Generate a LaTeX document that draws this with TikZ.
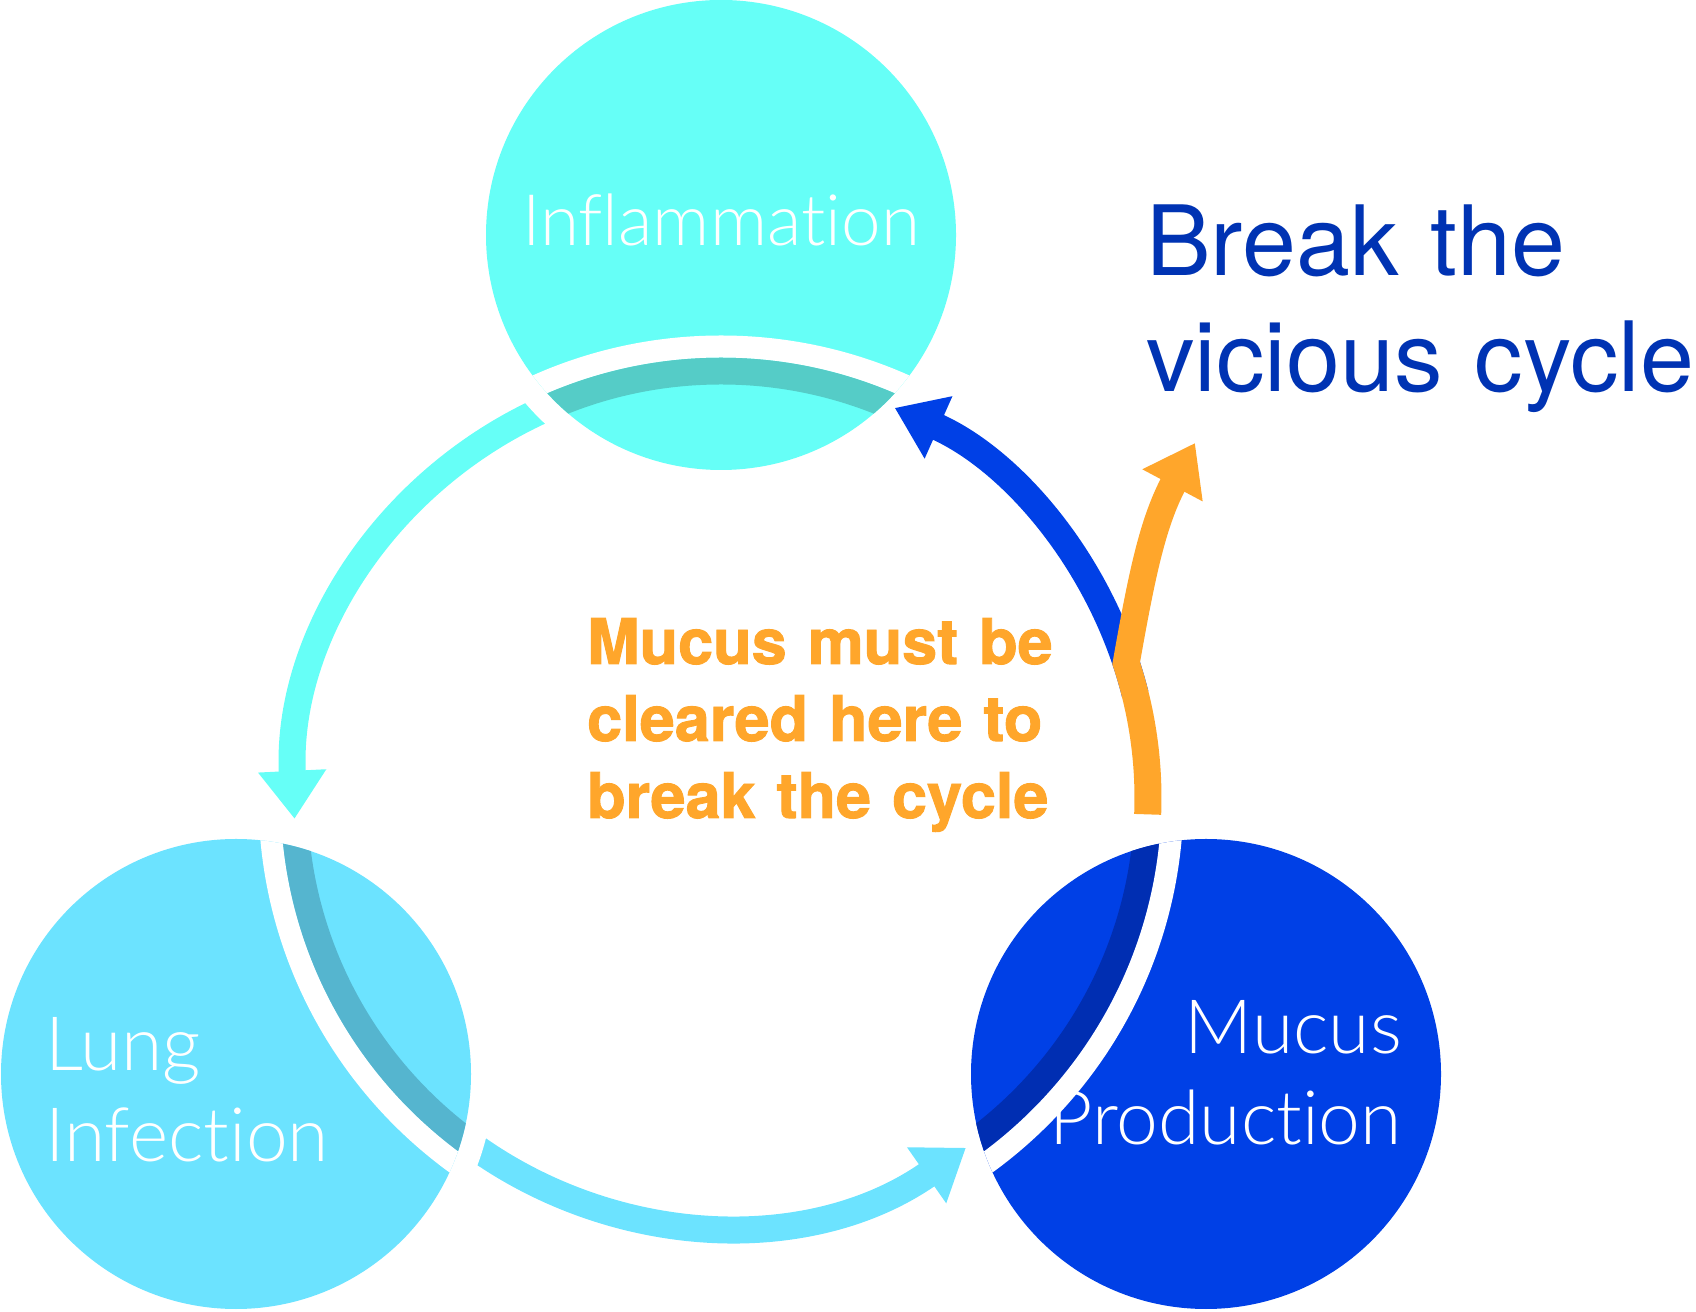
\documentclass[tikz,border=0pt]{standalone}
\usepackage{fontspec}
\usetikzlibrary{arrows.meta}
\setmainfont{TeX Gyre Heros}
\newfontfamily\lightfont{Lato Light}[Ligatures=NoCommon]
\newfontfamily\heavyfont{TeX Gyre Heros}[UprightFont={* Bold},FakeBold=1.5]
\definecolor{inflcyan}{HTML}{66FFF7}
\definecolor{inflshade}{HTML}{55CCC7}
\definecolor{lungcyan}{HTML}{6CE3FF}
\definecolor{lungshade}{HTML}{55B5CF}
\definecolor{mucusblue}{HTML}{0040E6}
\definecolor{mucusshade}{HTML}{002EB2}
\definecolor{clearorange}{HTML}{FFA62B}
\definecolor{titleblue}{HTML}{0033B3}
\tikzset{
  ringarrow/.style={line width=27pt,-{Triangle[width=65pt,length=48pt]}},
  circlelabel/.style={text=white,inner sep=0pt,font=\lightfont\fontsize{75}{91}\selectfont},
}

\begin{document}
\begin{tikzpicture}[x=1pt,y=1pt]
  \useasboundingbox (0,0) rectangle (1696,1311);
  \coordinate (ring) at (721,513);
  \coordinate (infl) at (721,1076);
  \coordinate (lung) at (236,237);
  \coordinate (mucus) at (1206,237);
  \coordinate (exit) at (1195,868);

  \draw[ringarrow,inflcyan] (ring) ++(105:427) arc[start angle=105,end angle=182.8,radius=427];
  \draw[ringarrow,lungcyan] (ring) ++(225:427) arc[start angle=225,end angle=305,radius=427];
  \fill[white] (infl) circle(258) (lung) circle(258);

  \foreach \ctr/\fc/\sc in {infl/inflcyan/inflshade,lung/lungcyan/lungshade,mucus/mucusblue/mucusshade} {
    \fill[\fc] (\ctr) circle(235);
    \begin{scope}
      \clip (\ctr) circle(235);
      \draw[\sc,line width=27pt] (ring) circle(427);
      \draw[white,line width=22pt] (ring) circle(451.5);
    \end{scope}
  }

  \draw[ringarrow,mucusblue] (ring) ++(14:427) arc[start angle=14,end angle=66,radius=427];
  \draw[ringarrow,clearorange] (ring) ++(-2.2:427) arc[start angle=-2.2,end angle=18.4,radius=427]
    to[out=80,in=242] (exit);

  \node[circlelabel,font=\lightfont\fontsize{71}{80}\selectfont,anchor=base] (inflammation) at (721,1065) {Inflammation};
  \node[circlelabel,text width=320pt,align=left,anchor=base west] (lunginfection) at (45,240) {Lung\\Infection};
  \node[circlelabel,text width=380pt,align=right,anchor=base east] (mucusproduction) at (1402,257) {Mucus\\Production};

  \node[text=clearorange,inner sep=0pt,text width=520pt,align=left,anchor=base west,
    font=\heavyfont\fontsize{63}{77}\selectfont] (clearnote) at (587,647)
    {Mucus must be\\cleared here to\\break the cycle};
  \node[text=titleblue,inner sep=0pt,text width=620pt,align=left,anchor=base west,
    font=\fontsize{97}{116}\selectfont] (breaktitle) at (1146,1035)
    {Break the\\vicious cycle};
\end{tikzpicture}
\end{document}
